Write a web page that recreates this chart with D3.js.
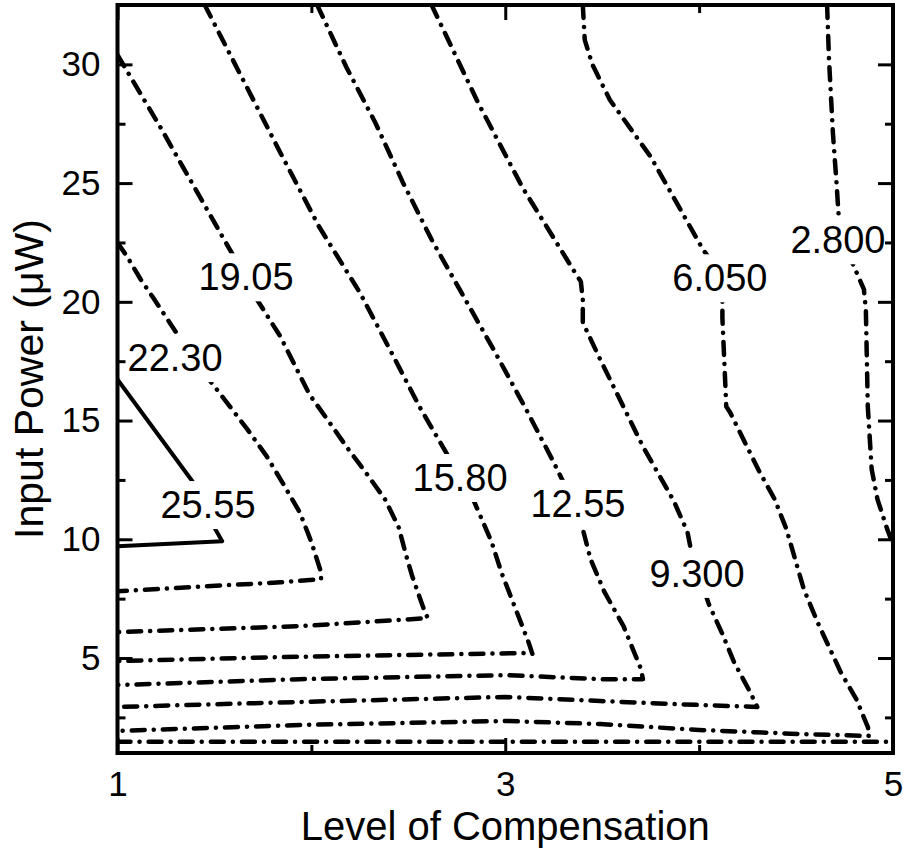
<!DOCTYPE html>
<html><head><meta charset="utf-8">
<script src="https://cdn.jsdelivr.net/npm/d3@7"></script>
<style>
html,body{margin:0;padding:0;background:#fff;}
svg{display:block;}
text{font-family:"Liberation Sans",Arial,Helvetica,sans-serif;fill:#000;}
</style></head><body>
<svg id="chart" width="908" height="852"></svg>
<script>
// ---------- data ----------
const xDomain = [1, 5];
const yDomain = [1, 32.5];
const xMajorTicks = [1, 3, 5];
const xMinorTicks = [2, 4];
const yMajorTicks = [5, 10, 15, 20, 25, 30];
const yMinorTicks = [2.5, 7.5, 12.5, 17.5, 22.5, 27.5];
const xTitle = "Level of Compensation";
const yTitle = "Input Power (\u03BCW)";

const contourLevels = ["25.55", "22.30", "19.05", "15.80", "12.55", "9.300", "6.050", "2.800"];

const contour2555 = [[[1.00,16.73],[1.39,12.40],[1.49,10.63],[1.54,9.92],[1.00,9.71]]];
const contour2230 = [[[1.00,22.49],[1.05,21.90],[1.12,20.94],[1.18,20.22],[1.31,18.62],[1.48,16.65],[1.58,15.59],[1.67,14.63],[1.77,13.49],[1.85,12.40],[1.94,11.14],[2.00,9.88],[2.05,8.61],[2.05,8.32],[1.84,8.19],[1.00,7.81]]];
const contour1905 = [[[1.00,30.40],[1.22,27.37],[1.60,21.90],[1.72,20.09],[1.84,18.54],[1.99,16.10],[2.09,14.96],[2.18,13.91],[2.28,12.82],[2.38,11.68],[2.45,10.51],[2.49,9.29],[2.52,8.45],[2.58,7.06],[2.60,6.68],[1.94,6.34],[1.00,6.09]]];
const contour1580 = [[[1.45,32.5],[1.84,26.28],[2.04,23.16],[2.25,20.39],[2.41,17.91],[2.56,15.55],[2.70,13.58],[2.83,11.77],[2.93,9.88],[2.98,8.61],[3.05,7.14],[3.12,5.67],[3.14,5.17],[3.09,5.21],[1.84,5.04],[1.00,4.87]]];
const contour1255 = [[[2.03,32.5],[2.18,29.89],[2.33,27.54],[2.47,25.06],[2.62,22.62],[2.78,20.30],[2.94,17.99],[3.10,15.59],[3.25,13.24],[3.30,12.40],[3.40,10.43],[3.44,9.16],[3.51,7.81],[3.61,6.34],[3.70,4.54],[3.71,4.11],[3.49,4.11],[3.00,4.28],[1.94,4.11],[1.00,3.86]]];
const contour9300 = [[[2.62,32.5],[2.86,28.38],[3.09,24.80],[3.35,21.36],[3.39,20.85],[3.40,20.09],[3.40,19.13],[3.49,17.57],[3.71,13.91],[3.87,11.60],[3.94,10.30],[3.96,9.46],[4.05,7.27],[4.12,6.01],[4.18,4.83],[4.26,3.61],[4.30,2.94],[3.87,3.06],[3.49,3.19],[3.00,3.36],[1.94,3.15],[1.00,2.94]]];
const contour6050 = [[[3.40,32.5],[3.41,31.03],[3.45,29.98],[3.54,28.50],[3.75,26.11],[4.02,22.20],[4.05,21.86],[4.12,20.18],[4.12,19.34],[4.14,15.59],[4.16,15.34],[4.31,12.86],[4.39,11.68],[4.45,10.43],[4.51,8.74],[4.54,7.90],[4.61,6.52],[4.73,4.41],[4.81,3.28],[4.87,2.10],[4.88,1.72],[4.52,1.80],[4.00,1.97],[3.49,2.22],[3.00,2.35],[1.94,2.18],[1.00,1.93]]];
const contour2800 = [[[4.66,32.5],[4.67,30.19],[4.69,27.12],[4.71,24.85],[4.72,23.58],[4.79,21.65],[4.85,20.52],[4.86,19.67],[4.87,15.59],[4.89,12.95],[4.92,11.68],[4.97,10.43],[5.00,9.79]],[[1.00,1.47],[5.00,1.47]]];

const labelPositions = [[1.467,11.47],[1.297,17.66],[1.663,21.06],[2.767,12.61],[3.375,11.52],[3.989,8.57],[4.107,21.02],[4.716,22.62]];

const contours = [contour2555, contour2230, contour1905, contour1580, contour1255, contour9300, contour6050, contour2800];

// ---------- layout ----------
const plot = {left: 117.5, right: 893, top: 5, bottom: 753};
const svg = d3.select("#chart");
const x = d3.scaleLinear().domain(xDomain).range([plot.left, plot.right]);
const y = d3.scaleLinear().domain(yDomain).range([plot.bottom, plot.top]);

const defs = svg.append("defs");
defs.append("clipPath").attr("id", "plotClip").append("rect")
  .attr("x", plot.left).attr("y", plot.top)
  .attr("width", plot.right - plot.left).attr("height", plot.bottom - plot.top);

const line = d3.line().x(d => x(d[0])).y(d => y(d[1]));

const contourG = svg.append("g").attr("clip-path", "url(#plotClip)");
const labelG = svg.append("g");

// labels first (to measure)
const labels = labelG.selectAll("text").data(contourLevels).join("text")
  .attr("x", (d, i) => x(labelPositions[i][0]))
  .attr("y", (d, i) => y(labelPositions[i][1]))
  .attr("dy", "0.36em")
  .attr("text-anchor", "middle")
  .attr("font-size", 38)
  .text(d => d);

labels.each(function(d, i) {
  const bb = this.getBBox();
  const pad = 7;
  const m = defs.append("mask").attr("id", "mask" + i)
    .attr("maskUnits", "userSpaceOnUse")
    .attr("x", 0).attr("y", 0).attr("width", 908).attr("height", 852);
  m.append("rect").attr("x", 0).attr("y", 0).attr("width", 908).attr("height", 852).attr("fill", "#fff");
  m.append("rect").attr("x", bb.x - pad).attr("y", bb.y + 4 - pad)
    .attr("width", bb.width + 2 * pad).attr("height", bb.height - 8 + 2 * pad).attr("fill", "#000");
});

contours.forEach((pieces, i) => {
  const g = contourG.append("g").attr("mask", `url(#mask${i})`);
  g.selectAll("path").data(pieces).join("path")
    .attr("d", line)
    .attr("fill", "none")
    .attr("stroke", "#000")
    .attr("stroke-width", i === 0 ? 4 : 4.5)
    .attr("stroke-linejoin", "round")
    .attr("stroke-linecap", "round")
    .attr("stroke-dasharray", i === 0 ? null : "13 9 0.1 9");
});

// ---------- axes ----------
function styleAxis(g) {
  g.select(".domain").remove();
  g.selectAll(".tick line").attr("stroke", "#000").attr("stroke-width", 3);
  g.selectAll(".tick text").attr("font-size", 35).attr("font-family", '"Liberation Sans",Arial,sans-serif').attr("fill", "#000");
  g.attr("font-family", null).attr("font-size", null);
}

svg.append("g").attr("transform", `translate(0,${plot.bottom})`)
  .call(d3.axisBottom(x).tickValues(xMajorTicks).tickSizeInner(-15).tickSizeOuter(0).tickPadding(18).tickFormat(d3.format("d")))
  .call(styleAxis);
svg.append("g").attr("transform", `translate(0,${plot.bottom})`)
  .call(d3.axisBottom(x).tickValues(xMinorTicks).tickSizeInner(-8).tickSizeOuter(0).tickFormat(""))
  .call(styleAxis);
svg.append("g").attr("transform", `translate(0,${plot.top})`)
  .call(d3.axisTop(x).tickValues(xMajorTicks).tickSizeInner(-15).tickSizeOuter(0).tickFormat(""))
  .call(styleAxis);
svg.append("g").attr("transform", `translate(0,${plot.top})`)
  .call(d3.axisTop(x).tickValues(xMinorTicks).tickSizeInner(-8).tickSizeOuter(0).tickFormat(""))
  .call(styleAxis);

svg.append("g").attr("transform", `translate(${plot.left},0)`)
  .call(d3.axisLeft(y).tickValues(yMajorTicks).tickSizeInner(-15).tickSizeOuter(0).tickPadding(17).tickFormat(d3.format("d")))
  .call(styleAxis);
svg.append("g").attr("transform", `translate(${plot.left},0)`)
  .call(d3.axisLeft(y).tickValues(yMinorTicks).tickSizeInner(-8).tickSizeOuter(0).tickFormat(""))
  .call(styleAxis);
svg.append("g").attr("transform", `translate(${plot.right},0)`)
  .call(d3.axisRight(y).tickValues(yMajorTicks).tickSizeInner(-15).tickSizeOuter(0).tickFormat(""))
  .call(styleAxis);
svg.append("g").attr("transform", `translate(${plot.right},0)`)
  .call(d3.axisRight(y).tickValues(yMinorTicks).tickSizeInner(-8).tickSizeOuter(0).tickFormat(""))
  .call(styleAxis);

// frame
svg.append("rect")
  .attr("x", plot.left).attr("y", plot.top)
  .attr("width", plot.right - plot.left).attr("height", plot.bottom - plot.top)
  .attr("fill", "none").attr("stroke", "#000").attr("stroke-width", 4);

// titles
svg.append("text")
  .attr("x", (plot.left + plot.right) / 2).attr("y", 840)
  .attr("text-anchor", "middle").attr("font-size", 40)
  .text(xTitle);
svg.append("text")
  .attr("transform", `translate(43,${(plot.top + plot.bottom) / 2}) rotate(-90)`)
  .attr("text-anchor", "middle").attr("font-size", 41)
  .text(yTitle);
</script>
</body></html>
